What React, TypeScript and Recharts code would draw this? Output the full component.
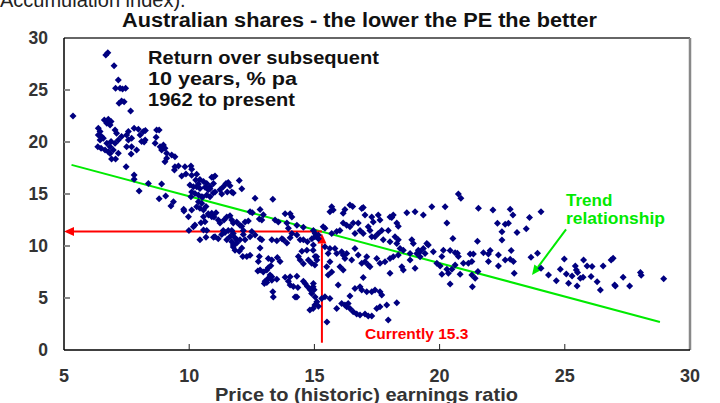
import React from 'react';
import { ScatterChart, Scatter, XAxis, YAxis, ReferenceLine } from 'recharts';

type Pt = [number, number];

// [price-to-earnings ratio, subsequent 10-year return % pa]
const cheapMarket: Pt[] = [
  [5.36,22.5],[6.67,28.37],[6.75,28.59],[7.0,27.34],[7.17,25.96],[7.06,25.16],[7.24,25.16],[7.34,25.1],[7.46,25.16],[7.3,23.94],[7.2,23.72],[7.4,23.88],[7.66,22.98],
  [6.61,22.12],[6.77,22.18],[6.88,21.96],[6.71,21.8],[6.84,21.64],[6.37,21.32],[6.44,21.0],[6.37,20.68],[6.5,20.52],[6.44,20.2],[6.57,20.36],[6.35,19.55],[6.48,19.39],[6.64,19.23],[6.77,19.07],
  [7.04,21.16],[7.1,20.84],[7.3,20.52],[7.17,20.2],[7.04,19.87],[6.88,20.04],[6.71,19.87],[6.84,19.55],[6.97,19.23],[7.17,18.91],
  [7.57,21.0],[7.5,20.68],[7.57,20.2],[7.5,19.55],[7.7,19.55],[7.8,21.32],[7.97,21.22],[8.17,21.0],[8.25,21.1],[8.04,20.68],[8.1,20.04],[8.24,20.2],[8.2,20.0],[7.7,20.36],[7.9,19.23],
  [8.7,21.16],[8.8,21.16],[8.68,20.45],[8.64,19.87],[8.84,19.55],[8.97,19.71],[9.03,19.39],[8.9,19.23],[9.1,18.91],[9.3,18.75],[9.43,18.59],[9.1,18.43],
  [6.84,18.9],[6.9,18.36],[7.06,18.36],[7.68,18.85],[7.48,17.63],[7.8,16.83],[7.8,16.41],[8.37,16.0],[8.0,15.29],[8.9,15.96],[8.8,14.55],[9.06,14.81],[9.37,14.26],[9.27,13.85],[9.78,13.53],[9.79,13.36],
  [9.03,18.1],[9.43,17.63],[9.57,17.69],[9.41,17.31],[9.83,17.63],[10.07,17.69],[10.1,17.37],[9.7,16.73],[9.87,16.92],
];

const moderateMarket: Pt[] = [
  [10.1,16.8],[10.3,16.9],[10.26,16.35],[10.43,16.4],[10.57,16.2],[10.37,15.96],[10.9,16.6],[10.97,16.0],[10.03,15.86],[10.17,15.7],[10.3,15.7],[10.43,15.54],[10.63,15.64],[10.83,15.7],
  [10.1,15.2],[10.23,15.06],[10.37,14.9],[10.07,14.74],[10.5,14.74],[10.7,14.9],[10.83,14.74],[10.37,14.26],[10.5,14.1],[10.3,13.78],[10.43,13.62],[10.57,13.46],[10.1,13.46],
  [9.97,12.82],[10.57,12.82],[10.77,12.98],[10.9,13.14],[10.9,12.82],[10.63,12.34],[10.47,12.24],[10.23,12.02],[10.17,11.86],[10.57,11.54],[10.67,10.83],[10.97,10.83],[9.99,11.5],
  [11.03,16.73],[10.96,16.6],[10.7,16.0],[10.83,15.5],[10.76,15.4],[10.96,15.1],[11.03,15.2],[11.23,15.4],[11.36,15.7],[11.47,16.0],[11.56,16.1],[11.63,15.8],[11.52,15.2],[11.7,15.2],[11.76,15.1],[11.3,15.0],[12.0,16.3],[12.1,15.5],
  [10.54,14.7],[10.67,13.8],[10.76,13.1],[10.9,13.0],[11.07,13.2],[10.99,12.8],[11.16,12.5],[11.23,12.2],[11.39,12.5],[11.5,12.8],[11.63,12.9],[11.7,12.5],[11.76,12.2],[11.9,12.3],[12.03,12.0],[12.1,11.9],[12.16,11.5],[12.23,12.3],[12.36,12.4],
  [12.43,13.3],[12.63,14.6],[12.52,13.2],[12.83,13.5],[12.96,13.0],[12.9,12.5],[12.8,12.6],[13.34,14.5],[13.43,12.5],[13.56,12.3],[13.83,13.1],[14.03,13.1],[14.1,12.8],[13.9,12.2],[14.3,12.0],[13.96,11.7],[14.56,11.8],[14.96,11.5],[15.03,11.2],[15.16,10.7],[15.16,11.05],
  [10.7,11.5],[10.43,10.6],[11.03,10.9],[11.16,10.7],[11.3,11.1],[11.36,11.5],[11.43,11.3],[11.56,11.5],[11.7,11.5],[11.76,11.2],[11.83,10.8],[11.9,10.6],[11.63,10.9],[11.5,10.6],[11.7,10.4],[11.76,10.1],[11.9,10.3],[12.03,10.6],[12.16,11.1],[12.23,10.6],
  [12.1,9.8],[12.0,9.5],[11.83,9.6],[11.76,9.9],[12.14,9.0],[12.43,10.9],[12.5,11.4],[12.63,11.05],[12.83,10.7],[12.9,10.6],[12.83,9.8],[13.3,10.6],[13.5,10.5],[13.7,10.7],[13.76,10.6],[13.9,10.3],[14.03,10.8],[14.1,11.2],[14.3,11.05],[14.43,10.6],[14.56,10.6],[14.72,10.4],[14.9,10.7],[14.96,10.1],
  [14.7,9.6],[14.5,9.5],[14.36,9.0],[14.43,8.65],[14.56,8.3],[14.76,8.65],[15.1,8.65],[15.03,9.0],
  [12.3,9.0],[12.43,9.1],[12.76,8.5],[12.8,9.0],[13.16,8.8],[13.3,8.65],[13.52,8.9],[13.63,8.5],[13.26,8.1],[13.16,7.9],[12.74,7.6],[12.83,7.7],[12.96,7.5],[13.1,7.7],[13.23,7.2],[13.3,7.05],[13.16,6.9],[13.03,6.6],[13.3,6.7],[13.5,6.8],
  [13.83,7.0],[14.03,7.05],[13.96,6.6],[14.3,7.1],[14.16,6.1],[14.34,6.0],[14.56,6.6],[14.63,6.4],[14.72,6.1],[14.83,5.8],[14.99,5.8],[14.96,6.4],[15.03,5.1],[15.1,4.65],[15.16,4.2],[14.23,5.1],[14.3,5.1],[13.1,6.5],[13.0,6.4],[13.34,5.6],[13.36,5.1],[14.03,6.25],
];

const fairMarket: Pt[] = [
  [15.69,13.78],[15.62,13.3],[15.75,13.46],[16.15,13.14],[16.22,13.5],[16.42,13.94],[16.53,13.8],[16.89,13.6],[16.95,13.7],[17.02,12.98],[17.29,12.8],[17.35,12.3],[17.55,12.98],[17.62,12.5],[18.02,12.8],[18.09,12.75],[18.15,12.98],[18.29,12.2],[18.35,11.9],[18.69,13.2],[19.02,13.3],[19.35,12.98],[19.69,13.78],[20.22,13.78],[20.29,12.2],
  [15.35,11.85],[15.42,11.7],[15.69,11.2],[15.89,11.4],[16.02,11.5],[16.15,12.2],[16.29,12.0],[16.42,11.85],[16.55,12.2],[16.62,11.2],[16.75,12.2],[16.82,11.5],[16.95,11.2],[17.15,11.85],[17.22,11.5],[17.29,10.9],[17.42,10.9],[17.55,11.2],[17.69,11.5],[17.75,10.6],[17.95,11.5],
  [18.02,10.4],[18.22,10.9],[18.29,10.25],[18.35,10.6],[18.42,9.77],[18.55,9.6],[18.82,9.29],[18.89,10.6],[18.95,10.25],[19.09,9.29],[19.15,9.6],[19.22,9.45],[19.35,9.77],[19.42,9.29],[19.49,10.25],[19.55,10.1],[19.75,9.45],[19.89,8.33],[20.15,9.6],
  [15.02,10.9],[14.95,9.6],[15.09,8.97],[14.89,8.33],[15.02,8.17],[15.42,9.93],[15.62,9.77],[15.55,9.29],[15.82,9.77],[15.89,9.29],[16.09,9.45],[16.15,9.13],[16.22,8.81],[16.29,9.29],[16.02,8.0],[16.15,7.7],[15.62,8.49],[15.49,8.0],[15.55,7.2],[15.69,7.5],
  [16.49,8.65],[16.62,9.77],[16.75,9.13],[16.89,8.33],[17.02,8.49],[17.09,8.97],[17.15,8.17],[17.22,8.0],[17.49,8.81],[17.62,8.33],[17.82,8.49],[18.02,7.37],[18.02,8.81],[18.15,8.97],[18.35,9.13],[18.49,8.0],[18.55,7.7],[18.82,8.65],[19.02,7.85],[19.22,8.97],
  [14.95,6.08],[14.89,5.44],[15.02,4.32],[15.29,4.96],[15.42,5.12],[15.62,4.96],[14.82,3.84],[14.95,4.0],[15.95,6.24],[16.42,5.19],[16.62,5.92],[16.82,6.08],[16.95,6.98],[16.89,5.77],[17.09,5.6],[17.29,5.6],[17.42,5.77],[17.62,5.6],[17.69,5.28],[17.89,4.32],[18.29,4.55],
  [15.89,4.0],[16.09,4.48],[16.22,4.32],[16.29,4.16],[16.42,4.0],[16.55,3.68],[16.69,3.46],[16.82,3.36],[17.02,3.46],[17.15,3.27],[17.29,3.27],[17.49,4.0],[17.62,4.16],[17.95,2.88],[16.35,4.48],[15.5,2.7],
];

const expensiveMarket: Pt[] = [
  [20.75,15.0],[20.85,14.59],[21.55,13.63],[22.13,13.47],[22.82,13.53],[22.93,12.98],[23.59,12.73],[24.05,13.3],[22.31,12.18],[22.62,12.09],[22.75,12.18],[22.49,11.38],[23.09,11.29],[23.46,11.67],[20.53,10.71],[21.51,10.45],[22.49,10.58],
  [20.09,8.98],[20.42,9.56],[20.62,9.36],[20.71,9.3],[20.75,8.98],[21.22,9.23],[21.35,9.23],[21.75,9.36],[21.95,9.23],[22.02,9.56],[22.35,9.14],[22.86,9.56],[22.62,8.66],[22.82,8.72],[22.95,8.5],[21.95,8.5],[21.29,8.5],[21.15,8.34],[20.95,8.34],
  [20.62,8.18],[20.29,7.76],[20.49,7.76],[20.35,7.38],[20.09,7.28],[20.02,8.08],[22.35,8.08],[20.82,7.28],[21.29,7.22],[21.42,6.9],[21.53,7.54],[22.98,7.38],[20.42,6.35],[21.31,6.09],
  [23.65,8.91],[23.91,9.3],[24.05,7.86],[24.35,7.22],[24.66,6.67],[24.82,7.76],[24.98,8.75],[25.06,7.31],[25.15,6.41],[25.29,7.12],[25.42,8.08],[25.46,7.7],[25.51,7.44],[25.49,6.16],[25.62,6.9],[25.73,6.99],[25.75,8.66],[25.89,8.08],
  [26.05,7.06],[26.09,8.02],[26.29,6.57],[26.42,5.77],[26.53,8.08],[26.85,8.66],[26.93,8.82],[26.99,6.25],[27.02,6.16],[27.33,6.99],[27.59,6.16],[28.02,7.44],[28.05,7.18],[28.95,6.86],
];

const xTicks = [5, 10, 15, 20, 25, 30];
const yTicks = [0, 5, 10, 15, 20, 25, 30];

const currentPE = 15.3;
const currentReturnLevel = 11.4;
const trendFrom = { pe: 5.3, ret: 17.8 };
const trendTo = { pe: 28.8, ret: 2.7 };
const trendArrowFrom = { pe: 25.05, ret: 11.6 };
const trendArrowTo = { pe: 23.69, ret: 7.2 };

const scatterData = [...cheapMarket, ...moderateMarket, ...fairMarket, ...expensiveMarket].map(([pe, ret]) => ({ pe, ret }));

const FONT = '"Liberation Sans", Arial, Helvetica, sans-serif';
const RED = '#ff0000';
const GREEN = '#00ea00';
const NAVY = '#000080';

const Diamond = (props: any) => {
  const { cx, cy } = props;
  if (cx == null || cy == null) return null;
  const r = 3.5;
  return <polygon points={`${cx},${cy - r} ${cx + r},${cy} ${cx},${cy + r} ${cx - r},${cy}`} fill={NAVY} />;
};

const arrowShape = (color: string, width: number) => (props: any) => {
  const { x1, y1, x2, y2 } = props;
  const ang = Math.atan2(y2 - y1, x2 - x1);
  const L = 10;
  const W = 4.5;
  const bx = x2 - L * Math.cos(ang);
  const by = y2 - L * Math.sin(ang);
  const p1x = bx + W * Math.sin(ang);
  const p1y = by - W * Math.cos(ang);
  const p2x = bx - W * Math.sin(ang);
  const p2y = by + W * Math.cos(ang);
  return (
    <g>
      <line x1={x1} y1={y1} x2={bx} y2={by} stroke={color} strokeWidth={width} />
      <polygon points={`${x2},${y2} ${p1x},${p1y} ${p2x},${p2y}`} fill={color} />
    </g>
  );
};

const XTick = (props: any) => {
  const { x, y, payload } = props;
  const v = payload.value;
  return (
    <g>
      {v !== 5 && v !== 30 && <line x1={x} x2={x} y1={y} y2={y - 6} stroke="#222" strokeWidth={1} />}
      <text x={x} y={y + 32} textAnchor="middle" fontFamily={FONT} fontWeight="bold" fontSize={18} fill="#333">{v}</text>
    </g>
  );
};

const YTick = (props: any) => {
  const { x, y, payload } = props;
  const v = payload.value;
  return (
    <g>
      {v !== 0 && v !== 30 && <line x1={x} x2={x + 6} y1={y} y2={y} stroke="#888" strokeWidth={2} />}
      <text x={x - 16} y={y + 6} textAnchor="end" fontFamily={FONT} fontWeight="bold" fontSize={17.5} fill="#333">{v}</text>
    </g>
  );
};

export default function App() {
  return (
    <div style={{ position: 'absolute', left: 0, top: 0, width: 720, height: 403, background: '#fff', overflow: 'hidden' }}>
      <ScatterChart width={720} height={403} margin={{ top: 38, right: 30, bottom: 0, left: 0 }}>
        <XAxis
          type="number"
          dataKey="pe"
          domain={[5, 30]}
          ticks={xTicks}
          interval={0}
          height={53}
          tickSize={0}
          tickMargin={0}
          tickLine={false}
          tick={XTick}
          axisLine={{ stroke: '#000', strokeWidth: 1.5 }}
          allowDataOverflow
        />
        <YAxis
          type="number"
          dataKey="ret"
          domain={[0, 30]}
          ticks={yTicks}
          interval={0}
          width={64}
          tickSize={0}
          tickMargin={0}
          tickLine={false}
          tick={YTick}
          axisLine={{ stroke: '#000', strokeWidth: 1.5 }}
          allowDataOverflow
        />
        <ReferenceLine y={30} stroke="#333" strokeWidth={1.5} ifOverflow="visible" />
        <ReferenceLine x={30} stroke="#888" strokeWidth={2.5} ifOverflow="visible" />
        <Scatter data={scatterData} shape={Diamond} isAnimationActive={false} />
        <ReferenceLine
          segment={[{ x: trendFrom.pe, y: trendFrom.ret }, { x: trendTo.pe, y: trendTo.ret }]}
          stroke={GREEN}
          strokeWidth={2}
          ifOverflow="visible"
        />
        <ReferenceLine
          segment={[{ x: trendArrowFrom.pe, y: trendArrowFrom.ret }, { x: trendArrowTo.pe, y: trendArrowTo.ret }]}
          shape={arrowShape(GREEN, 2)}
          ifOverflow="visible"
        />
        <ReferenceLine
          segment={[{ x: currentPE, y: currentReturnLevel }, { x: 5, y: currentReturnLevel }]}
          shape={arrowShape(RED, 2)}
          ifOverflow="visible"
        />
        <ReferenceLine
          segment={[{ x: currentPE, y: 0.7 }, { x: currentPE, y: currentReturnLevel - 0.2 }]}
          shape={arrowShape(RED, 2)}
          ifOverflow="visible"
        />
      </ScatterChart>
      <svg width={720} height={403} style={{ position: 'absolute', left: 0, top: 0, pointerEvents: 'none' }}>
        <text x={0} y={7} fontFamily={FONT} fontSize={20} fill="#222">Accumulation index).</text>
        <text x={122} y={27} textLength={475} lengthAdjust="spacingAndGlyphs" fontFamily={FONT} fontWeight="bold" fontSize={19.5} fill="#111">Australian shares - the lower the PE the better</text>
        <text x={148} y={64} textLength={231} lengthAdjust="spacingAndGlyphs" fontFamily={FONT} fontWeight="bold" fontSize={19} fill="#111">Return over subsequent</text>
        <text x={148} y={85} textLength={149} lengthAdjust="spacingAndGlyphs" fontFamily={FONT} fontWeight="bold" fontSize={19} fill="#111">10 years, % pa</text>
        <text x={148} y={106} textLength={147} lengthAdjust="spacingAndGlyphs" fontFamily={FONT} fontWeight="bold" fontSize={19} fill="#111">1962 to present</text>
        <text x={365} y={339} fontFamily={FONT} fontWeight="bold" fontSize={15.5} fill={RED}>Currently 15.3</text>
        <text x={566} y={206} fontFamily={FONT} fontWeight="bold" fontSize={17} fill={GREEN}>Trend</text>
        <text x={566} y={224} textLength={99} lengthAdjust="spacingAndGlyphs" fontFamily={FONT} fontWeight="bold" fontSize={17} fill={GREEN}>relationship</text>
        <text x={215} y={401} textLength={303} lengthAdjust="spacingAndGlyphs" fontFamily={FONT} fontWeight="bold" fontSize={19} fill="#333">Price to (historic) earnings ratio</text>
      </svg>
    </div>
  );
}
